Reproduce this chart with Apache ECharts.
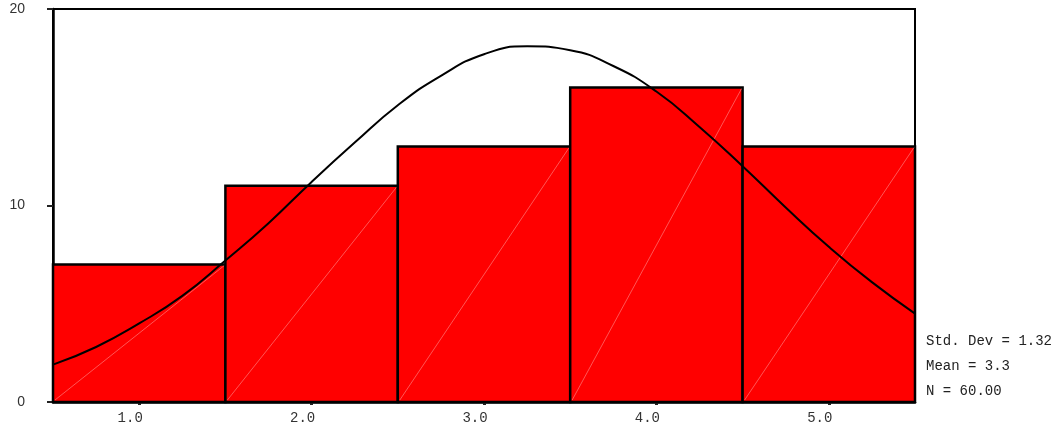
<!DOCTYPE html>
<html>
<head>
<meta charset="utf-8">
<script src="https://cdn.jsdelivr.net/npm/echarts@6/dist/echarts.min.js"></script>
<style>
  html, body { margin: 0; padding: 0; background: #fff; }
  #chart { width: 1061px; height: 430px; }
</style>
</head>
<body>
<div id="chart"></div>
<script>
// histogram bins (midpoints) and counts
const binMids = [1, 2, 3, 4, 5]
const binCounts = [7, 11, 13, 16, 13]

// normal curve
const curveX = [0.5, 0.75, 1.0, 1.25, 1.5, 1.75, 2.0, 2.25, 2.5, 2.75, 3.0, 3.25, 3.5, 3.75, 4.0, 4.25, 4.5, 4.75, 5.0, 5.25, 5.5]
const curveY = [1.9, 2.8, 4.0, 5.4, 7.2, 9.1, 11.2, 13.2, 15.1, 16.6, 17.7, 18.1, 17.9, 17.1, 15.8, 14.0, 12.0, 9.9, 7.9, 6.1, 4.5]

const xTicks = [1, 2, 3, 4, 5]
const yTicks = [0, 10, 20]
const statLines = ['Std. Dev = 1.32', 'Mean = 3.3', 'N = 60.00']

const chart = echarts.init(document.getElementById('chart'))

// bars as rectangles spanning each bin, plus the faint diagonal seam
const renderBar = (params, api) => {
  const mid = api.value(0)
  const count = api.value(1)
  const p0 = api.coord([mid - 0.5, 0])
  const p1 = api.coord([mid + 0.5, count])
  return {
    type: 'group',
    children: [
      {
        type: 'rect',
        shape: { x: p0[0], y: p1[1], width: p1[0] - p0[0], height: p0[1] - p1[1] },
        style: { fill: '#ff0000', stroke: '#000', lineWidth: 2.5 }
      },
      {
        type: 'line',
        shape: { x1: p0[0] + 2, y1: p0[1] - 2, x2: p1[0] - 1, y2: p1[1] + 1 },
        style: { stroke: 'rgba(255,190,190,0.75)', lineWidth: 0.6 }
      }
    ]
  }
}

chart.setOption({
  animation: false,
  grid: {
    left: 53, right: 146, top: 9, bottom: 28,
    show: true, borderColor: '#000', borderWidth: 2, backgroundColor: 'transparent'
  },
  xAxis: {
    type: 'value',
    min: 0.5,
    max: 5.5,
    splitLine: { show: false },
    axisLine: { lineStyle: { color: '#000', width: 2.5 } },
    axisTick: {
      customValues: xTicks,
      length: 3,
      lineStyle: { color: '#222', width: 3 }
    },
    axisLabel: {
      customValues: xTicks,
      formatter: v => v.toFixed(1),
      fontFamily: 'Liberation Mono',
      fontSize: 14,
      color: '#333',
      margin: 9,
      padding: [0, 18, 0, 0]
    }
  },
  yAxis: {
    type: 'value',
    min: 0,
    max: 20,
    interval: 10,
    splitLine: { show: false },
    axisLine: { show: true, lineStyle: { color: '#000', width: 2.5 } },
    axisTick: {
      show: true,
      length: 6,
      lineStyle: { color: '#222', width: 2 }
    },
    axisLabel: {
      customValues: yTicks,
      fontFamily: 'Liberation Sans',
      fontSize: 14,
      color: '#333',
      margin: 28
    }
  },
  series: [
    {
      type: 'custom',
      renderItem: renderBar,
      data: binMids.map((m, i) => [m, binCounts[i]]),
      z: 2
    },
    {
      type: 'line',
      data: curveX.map((x, i) => [x, curveY[i]]),
      smooth: 0.5,
      showSymbol: false,
      lineStyle: { color: '#000', width: 2 },
      z: 3
    }
  ],
  graphic: statLines.map((t, i) => ({
    type: 'text',
    left: 926,
    top: 334 + i * 25,
    style: {
      text: t,
      font: '14px "Liberation Mono"',
      fill: '#222'
    }
  }))
})
</script>
</body>
</html>
